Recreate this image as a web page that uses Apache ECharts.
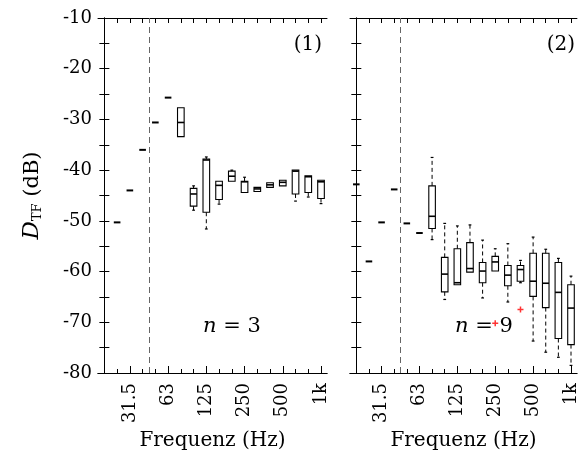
<!DOCTYPE html>
<html>
<head>
<meta charset="utf-8">
<script src="https://cdn.jsdelivr.net/npm/echarts@6/dist/echarts.min.js"></script>
<style>
  html, body { margin: 0; padding: 0; background: #fff; }
  #chart { width: 580px; height: 467px; }
</style>
</head>
<body>
<div id="chart"></div>
<script>
// third-octave bands, index 0 = 20 Hz ... 17 = 1 kHz
const bands = ['20', '25', '31.5', '40', '50', '63', '80', '100', '125', '160', '200', '250', '315', '400', '500', '630', '800', '1k'];
const labelBands = [2, 5, 8, 11, 14, 17];
const yTicks = [-80, -70, -60, -50, -40, -30, -20, -10];

// [band, min, q1, median, q3, max]  (dB)
const boxes1 = [
	[1, -50.3, -50.3, -50.3, -50.3, -50.3],
	[2, -44.0, -44.0, -44.0, -44.0, -44.0],
	[3, -36.0, -36.0, -36.0, -36.0, -36.0],
	[4, -30.6, -30.6, -30.6, -30.6, -30.6],
	[5, -25.7, -25.7, -25.7, -25.7, -25.7],
	[6, -33.4, -33.4, -30.6, -27.7, -27.7],
	[7, -47.9, -47.1, -44.7, -43.6, -43.1],
	[8, -51.6, -48.3, -38.0, -37.8, -37.4],
	[9, -46.7, -45.8, -43.0, -42.2, -42.2],
	[10, -42.2, -42.2, -41.2, -40.2, -40.0],
	[11, -44.4, -44.4, -42.3, -42.2, -41.4],
	[12, -44.2, -44.2, -43.7, -43.4, -43.4],
	[13, -43.4, -43.4, -42.9, -42.5, -42.5],
	[14, -43.1, -43.1, -42.4, -42.0, -42.0],
	[15, -46.1, -44.7, -40.2, -40.0, -40.0],
	[16, -45.3, -44.4, -41.3, -41.1, -41.1],
	[17, -46.6, -45.6, -42.3, -42.0, -42.0]
];

const boxes2 = [
	[0, -42.8, -42.8, -42.8, -42.8, -42.8],
	[1, -58.0, -58.0, -58.0, -58.0, -58.0],
	[2, -50.3, -50.3, -50.3, -50.3, -50.3],
	[3, -43.8, -43.8, -43.8, -43.8, -43.8],
	[4, -50.5, -50.5, -50.5, -50.5, -50.5],
	[5, -52.4, -52.4, -52.4, -52.4, -52.4],
	[6, -53.7, -51.5, -49.1, -43.1, -37.5],
	[7, -65.5, -64.0, -60.5, -57.2, -50.5],
	[8, -62.6, -62.6, -62.2, -55.5, -51.0],
	[9, -60.1, -60.1, -59.4, -54.3, -50.8],
	[10, -65.2, -62.2, -59.9, -58.2, -53.8],
	[11, -59.9, -59.9, -58.1, -57.0, -55.5],
	[12, -66.0, -62.8, -60.7, -58.8, -54.5],
	[13, -62.2, -61.9, -59.6, -58.8, -57.8],
	[14, -73.7, -64.9, -61.9, -56.4, -53.2],
	[15, -75.9, -67.1, -62.3, -56.4, -55.6],
	[16, -76.9, -73.2, -64.1, -58.2, -57.4],
	[17, -78.5, -74.4, -67.2, -62.6, -60.9]
];

const outliers2 = [
	[11, -70.2],
	[13, -67.5]
];

// limit between the two frequency regions
const splitBand = 3.5;

const FONT = 'DejaVu Serif';
const X_MIN = -0.5, X_MAX = 17.47;
const allBands = bands.map((b, i) => i);

function renderBox(params, api) {
	const x = api.value(0);
	const lo = api.value(1), q1 = api.value(2), md = api.value(3), q3 = api.value(4), hi = api.value(5);
	const hw = api.size([1, 0])[0] * 0.26;
	const cap = 1.4;
	const px = api.coord([x, md])[0];
	const y = v => api.coord([x, v])[1];
	const black = '#000';
	const children = [];
	if (lo === hi) {
		children.push({type: 'line', shape: {x1: px - hw, y1: y(md), x2: px + hw, y2: y(md)}, style: {stroke: black, lineWidth: 2}});
		return {type: 'group', children: children};
	}
	if (hi > q3) {
		children.push({type: 'line', shape: {x1: px, y1: y(q3), x2: px, y2: y(hi)}, style: {stroke: black, lineWidth: 1, lineDash: [4, 3]}});
		children.push({type: 'line', shape: {x1: px - cap, y1: y(hi), x2: px + cap, y2: y(hi)}, style: {stroke: black, lineWidth: 1.2}});
	}
	if (lo < q1) {
		children.push({type: 'line', shape: {x1: px, y1: y(q1), x2: px, y2: y(lo)}, style: {stroke: black, lineWidth: 1, lineDash: [4, 3]}});
		children.push({type: 'line', shape: {x1: px - cap, y1: y(lo), x2: px + cap, y2: y(lo)}, style: {stroke: black, lineWidth: 1.2}});
	}
	children.push({type: 'rect', shape: {x: px - hw, y: y(q3), width: 2 * hw, height: y(q1) - y(q3)}, style: {stroke: black, fill: 'none', lineWidth: 1.1}});
	children.push({type: 'line', shape: {x1: px - hw, y1: y(md), x2: px + hw, y2: y(md)}, style: {stroke: black, lineWidth: 1.6}});
	return {type: 'group', children: children};
}

function xAxes(gridIndex) {
	const line = {show: true, lineStyle: {color: '#000', width: 1}};
	return [
		{
			gridIndex: gridIndex, type: 'value', min: X_MIN, max: X_MAX, position: 'bottom',
			axisLine: line, splitLine: {show: false},
			axisTick: {inside: true, length: 4, customValues: allBands, lineStyle: {color: '#000'}},
			axisLabel: {show: false}
		},
		{
			gridIndex: gridIndex, type: 'value', min: X_MIN, max: X_MAX, position: 'bottom',
			axisLine: line, splitLine: {show: false},
			axisTick: {inside: true, length: 7, customValues: labelBands, lineStyle: {color: '#000'}},
			axisLabel: {
				customValues: labelBands, rotate: 90, margin: 10,
				fontFamily: FONT, fontSize: 18, color: '#000',
				formatter: v => bands[Math.round(v)]
			},
			name: 'Frequenz (Hz)', nameLocation: 'middle', nameGap: 57,
			nameTextStyle: {fontFamily: FONT, fontSize: 20, color: '#000'}
		},
		{
			gridIndex: gridIndex, type: 'value', min: X_MIN, max: X_MAX, position: 'top',
			axisLine: line, splitLine: {show: false},
			axisTick: {inside: true, length: 5, customValues: allBands, lineStyle: {color: '#000'}},
			axisLabel: {show: false}
		}
	];
}

function yAxes(gridIndex, withLabels) {
	const line = {show: true, lineStyle: {color: '#000', width: 1}};
	const left = {
		gridIndex: gridIndex, type: 'value', min: -80, max: -10, interval: 5, position: 'left',
		axisLine: line, splitLine: {show: false},
		axisTick: {inside: true, length: 5, lineStyle: {color: '#000'}},
		axisLabel: {
			show: withLabels, margin: 6, fontFamily: FONT, fontSize: 18, color: '#000',
			formatter: v => (yTicks.indexOf(v) >= 0 ? String(v) : '')
		}
	};
	if (withLabels) {
		left.name = '{d|D}{s|TF} (dB)';
		left.nameLocation = 'middle';
		left.nameGap = 54;
		left.nameTextStyle = {
			fontFamily: FONT, fontSize: 21, color: '#000',
			rich: {
				d: {fontFamily: FONT, fontSize: 23, fontStyle: 'italic', color: '#000'},
				s: {fontFamily: FONT, fontSize: 13, color: '#000', verticalAlign: 'bottom', padding: [9, 0, 0, 0]}
			}
		};
	}
	const right = {
		gridIndex: gridIndex, type: 'value', min: -80, max: -10, interval: 5, position: 'right',
		axisLine: line, splitLine: {show: false},
		axisTick: {inside: true, length: 5, lineStyle: {color: '#000'}},
		axisLabel: {show: false}
	};
	return [left, right];
}

function splitLine() {
	return {
		symbol: 'none', silent: true, label: {show: false},
		lineStyle: {type: [6, 4], color: '#666', width: 1},
		data: [{xAxis: splitBand}]
	};
}

const chart = echarts.init(document.getElementById('chart'), null, {renderer: 'canvas'});

const option = {
	animation: false,
	backgroundColor: '#fff',
	grid: [
		{left: 98, top: 18, width: 229, height: 355},
		{left: 350, top: 18, width: 228, height: 355}
	],
	xAxis: xAxes(0).concat(xAxes(1)),
	yAxis: yAxes(0, true).concat(yAxes(1, false)),
	series: [
		{
			type: 'custom', xAxisIndex: 1, yAxisIndex: 0,
			renderItem: renderBox, data: boxes1,
			encode: {x: 0, y: [1, 2, 3, 4, 5]},
			markLine: splitLine()
		},
		{
			type: 'custom', xAxisIndex: 4, yAxisIndex: 2,
			renderItem: renderBox, data: boxes2,
			encode: {x: 0, y: [1, 2, 3, 4, 5]},
			markLine: splitLine()
		},
		{
			type: 'scatter', xAxisIndex: 4, yAxisIndex: 2,
			data: outliers2,
			symbol: 'path://M3,0h2v3h3v2h-3v3h-2v-3h-3v-2h3z',
			symbolSize: 6,
			itemStyle: {color: '#ff0000'}
		}
	],
	graphic: [
		{type: 'text', x: 322, y: 45, style: {text: '(1)', font: '20px "DejaVu Serif"', fill: '#000', align: 'right', verticalAlign: 'middle'}},
		{type: 'text', x: 575, y: 45, style: {text: '(2)', font: '20px "DejaVu Serif"', fill: '#000', align: 'right', verticalAlign: 'middle'}},
		{type: 'text', x: 232, y: 327, style: {
			text: '{i|n} = 3', font: '21px "DejaVu Serif"', fill: '#000', align: 'center', verticalAlign: 'middle',
			rich: {i: {font: 'italic 21px "DejaVu Serif"', fill: '#000'}}
		}},
		{type: 'text', x: 484, y: 327, style: {
			text: '{i|n} = 9', font: '21px "DejaVu Serif"', fill: '#000', align: 'center', verticalAlign: 'middle',
			rich: {i: {font: 'italic 21px "DejaVu Serif"', fill: '#000'}}
		}}
	]
};

chart.setOption(option);
</script>
</body>
</html>
